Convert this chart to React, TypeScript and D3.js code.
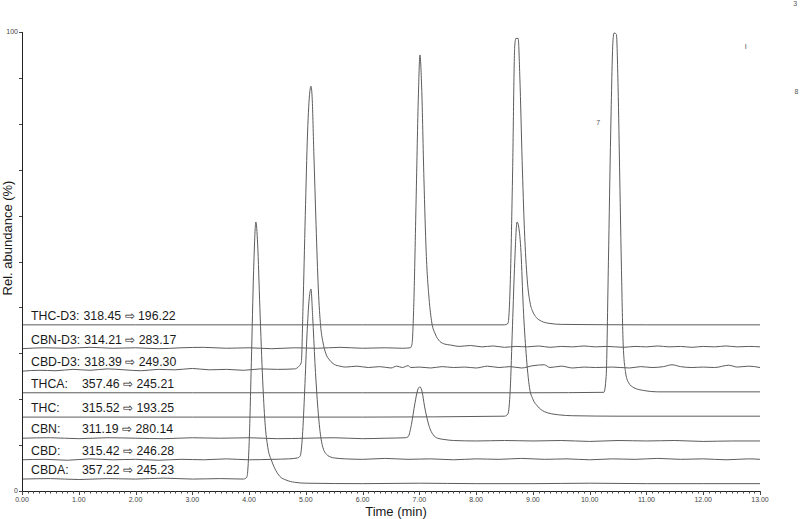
import { useEffect, useRef } from 'react';
import * as d3 from 'd3';

// trace names and MRM transitions (top to bottom)
const traceNames = ['THC-D3', 'CBN-D3', 'CBD-D3', 'THCA', 'THC', 'CBN', 'CBD', 'CBDA'];
const precursorMz = ['318.45', '314.21', '318.39', '357.46', '315.52', '311.19', '315.42', '357.22'];
const productMz = ['196.22', '283.17', '249.30', '245.21', '193.25', '280.14', '246.28', '245.23'];

// [time (min), rel. abundance (%)], baseline offsets included
const thcD3: [number, number][] = [
  [0, 36.2], [2, 36.2], [4, 36.2], [6, 36.2], [8.5, 36.2], [8.56, 36.5], [8.6, 45], [8.64, 68],
  [8.68, 97], [8.7, 98.6], [8.74, 98.6], [8.77, 90], [8.81, 72], [8.85, 57], [8.9, 46], [8.95, 41],
  [9.0, 39], [9.06, 37.8], [9.15, 37.0], [9.3, 36.5], [9.5, 36.3], [11, 36.2], [13, 36.2],
];
const cbnD3: [number, number][] = [
  [0, 31.0], [0.4, 31.2], [0.8, 31.1], [1.2, 31.3], [1.6, 31.1], [2.0, 31.2], [2.4, 31.0], [2.8, 31.2],
  [3.2, 31.3], [3.6, 31.1], [4.0, 31.2], [4.4, 31.0], [4.8, 31.2], [5.2, 31.1], [5.6, 31.3], [6.0, 31.1],
  [6.4, 31.2], [6.7, 31.1], [6.84, 31.2], [6.87, 32], [6.9, 40], [6.94, 62], [6.98, 85], [7.01, 95.0],
  [7.04, 88], [7.08, 68], [7.12, 52], [7.17, 42], [7.22, 36.6], [7.28, 34.2], [7.36, 32.6], [7.45, 32.0],
  [7.55, 31.8], [7.7, 31.5], [7.9, 31.7], [8.1, 31.4], [8.3, 31.6], [8.5, 31.3], [8.7, 31.5], [8.9, 31.4],
  [9.1, 31.6], [9.3, 31.3], [9.5, 31.5], [9.7, 31.4], [9.9, 31.6], [10.1, 31.4], [10.3, 31.5], [10.6, 31.3],
  [10.8, 31.5], [11.0, 31.4], [11.2, 31.6], [11.4, 31.4], [11.6, 31.5], [11.8, 31.3], [12.0, 31.5],
  [12.2, 31.4], [12.4, 31.6], [12.6, 31.4], [12.8, 31.5], [13.0, 31.4],
];
const cbdD3: [number, number][] = [
  [0, 26.1], [0.3, 26.3], [0.6, 26.2], [0.9, 26.5], [1.2, 26.3], [1.5, 26.6], [1.8, 26.4], [2.1, 26.2],
  [2.4, 26.5], [2.7, 26.4], [3.0, 26.7], [3.3, 26.4], [3.6, 26.5], [3.9, 26.3], [4.2, 26.6], [4.5, 26.5],
  [4.8, 26.6], [4.88, 27.2], [4.92, 28], [4.95, 40], [4.99, 60], [5.03, 78], [5.07, 87], [5.09, 88.2],
  [5.11, 86], [5.14, 74], [5.18, 58], [5.22, 44], [5.26, 36], [5.3, 32.5], [5.35, 30], [5.42, 28.5],
  [5.5, 27.6], [5.6, 27.2], [5.7, 27.0], [5.9, 27.2], [6.1, 26.9], [6.3, 27.1], [6.5, 26.8], [6.6, 27.2],
  [6.7, 26.9], [6.8, 27.3], [6.85, 26.9], [7.0, 27.0], [7.2, 26.8], [7.4, 27.1], [7.6, 26.9], [7.8, 27.0],
  [8.0, 26.8], [8.2, 27.2], [8.4, 26.9], [8.6, 27.1], [8.8, 26.8], [9.0, 27.3], [9.2, 27.5], [9.3, 26.9],
  [9.5, 27.2], [9.7, 26.8], [9.9, 27.0], [10.1, 26.9], [10.4, 27.0], [10.7, 26.8], [10.9, 27.1],
  [11.1, 26.9], [11.3, 27.1], [11.45, 27.5], [11.6, 27.1], [11.8, 26.9], [12.0, 27.0], [12.2, 26.9],
  [12.45, 27.4], [12.6, 27.0], [12.8, 27.2], [13.0, 26.9],
];
const thca: [number, number][] = [
  [0, 21.4], [3, 21.4], [6, 21.4], [9, 21.4], [10.25, 21.5], [10.29, 25], [10.33, 50], [10.37, 78],
  [10.41, 98], [10.43, 99.8], [10.47, 99.5], [10.5, 88], [10.53, 68], [10.56, 48], [10.59, 32],
  [10.63, 26], [10.68, 23.7], [10.78, 22.5], [10.95, 21.9], [11.2, 21.6], [13, 21.6],
];
const thc: [number, number][] = [
  [0, 16.1], [3, 16.1], [6, 16.1], [8.5, 16.3], [8.56, 16.8], [8.6, 22], [8.64, 36], [8.68, 50],
  [8.72, 58.6], [8.75, 57.5], [8.79, 52], [8.83, 40], [8.88, 30], [8.94, 22.5], [9.0, 20], [9.08, 18.5],
  [9.2, 17.3], [9.45, 16.6], [9.7, 16.4], [10.5, 16.3], [13, 16.3],
];
const cbn: [number, number][] = [
  [0, 11.5], [0.5, 11.6], [1.0, 11.4], [1.5, 11.6], [2.0, 11.5], [2.5, 11.4], [3.0, 11.6], [3.5, 11.5],
  [4.0, 11.6], [4.5, 11.4], [5.0, 11.5], [5.5, 11.6], [6.0, 11.4], [6.4, 11.5], [6.75, 11.6], [6.8, 11.8],
  [6.86, 14.5], [6.92, 19], [6.97, 22], [7.01, 22.7], [7.05, 21.5], [7.09, 18.5], [7.13, 16.1],
  [7.18, 13.8], [7.24, 12.3], [7.32, 11.5], [7.45, 11.2], [7.6, 11.0], [8.0, 10.9], [8.5, 11.0],
  [9.0, 10.9], [9.5, 11.0], [10.0, 10.8], [10.5, 11.0], [11.0, 10.9], [11.5, 11.0], [12.0, 10.8],
  [12.5, 10.9], [13.0, 10.9],
];
const cbd: [number, number][] = [
  [0, 6.8], [0.4, 6.9], [0.8, 6.7], [1.2, 7.0], [1.6, 6.8], [2.0, 6.9], [2.4, 6.7], [2.8, 6.9],
  [3.2, 6.8], [3.6, 7.0], [4.0, 6.8], [4.4, 6.9], [4.7, 7.0], [4.85, 7.2], [4.9, 7.6], [4.94, 12],
  [4.98, 22], [5.02, 34], [5.06, 42], [5.09, 44.0], [5.12, 38], [5.16, 28], [5.2, 20], [5.25, 13],
  [5.3, 9.5], [5.38, 7.8], [5.5, 7.2], [5.7, 7.0], [6.0, 6.9], [6.4, 7.1], [6.8, 6.9], [7.2, 7.0],
  [7.6, 6.8], [8.0, 7.0], [8.4, 6.9], [8.8, 7.1], [9.2, 6.9], [9.6, 7.0], [10.0, 6.8], [10.4, 7.0],
  [10.8, 6.9], [11.2, 7.1], [11.6, 6.9], [12.0, 7.0], [12.4, 6.8], [12.8, 7.0], [13.0, 6.9],
];
const cbda: [number, number][] = [
  [0, 2.6], [0.5, 2.7], [1.0, 2.5], [1.5, 2.7], [2.0, 2.6], [2.5, 2.8], [3.0, 2.6], [3.5, 2.7],
  [3.9, 2.6], [3.96, 3.0], [4.0, 10], [4.04, 28], [4.08, 48], [4.12, 58.6], [4.15, 54], [4.19, 40],
  [4.24, 24], [4.28, 15], [4.33, 9.5], [4.4, 6.5], [4.47, 4.5], [4.54, 3.2], [4.65, 2.4], [4.8, 1.9],
  [5.0, 1.7], [6.0, 1.6], [7.0, 1.7], [8.0, 1.6], [9.0, 1.6], [10.0, 1.7], [11.0, 1.6], [12.0, 1.6],
  [13.0, 1.6],
];
const traces = [thcD3, cbnD3, cbdD3, thca, thc, cbn, cbd, cbda];

// stray peak-label fragments left in the original figure: [text, time, abundance]
const strayLabels: [string, number, number][] = [
  ['3', 13.62, 105.6], ['I', 12.75, 96.3], ['8', 13.64, 86.5], ['7', 10.15, 79.7],
];

const App = () => {
  const svgRef = useRef<SVGSVGElement | null>(null);

  useEffect(() => {
    const width = 800;
    const height = 519;
    const svg = d3.select(svgRef.current);
    svg.selectAll('*').remove();
    svg.attr('width', width).attr('height', height);

    const font = 'Arial, "Liberation Sans", sans-serif';

    const x = d3.scaleLinear().domain([0, 13]).range([22, 760]);
    const y = d3.scaleLinear().domain([0, 100]).range([491, 32]);

    // traces
    const line = d3.line<[number, number]>()
      .x(d => x(d[0]))
      .y(d => y(d[1]))
      .curve(d3.curveMonotoneX);

    svg.selectAll('.trace')
      .data(traces)
      .enter()
      .append('path')
      .attr('class', 'trace')
      .attr('d', d => line(d))
      .attr('fill', 'none')
      .attr('stroke', '#5c5c5c')
      .attr('stroke-width', 1);

    // trace labels (name, then transition in a column; pushed right if the name is long)
    const labels = svg.append('g').style('font-family', font).style('font-size', '12.3px').attr('fill', '#1a1a1a');
    traceNames.forEach((name, i) => {
      const ly = y(traces[i][0][1]) - 5;
      const nameText = labels.append('text').attr('x', 31).attr('y', ly).text(`${name}:`);
      const nameEnd = 31 + ((nameText.node() as SVGTextElement).getComputedTextLength() || 0);
      labels.append('text')
        .attr('x', Math.max(82, nameEnd + 4))
        .attr('y', ly)
        .text(`${precursorMz[i]} \u21E8 ${productMz[i]}`);
    });

    // axes
    const axisG = svg.append('g').attr('stroke', '#222').attr('stroke-width', 1);
    axisG.append('line')
      .attr('x1', x(0)).attr('x2', x(13))
      .attr('y1', y(0) + 0.5).attr('y2', y(0) + 0.5);
    axisG.append('line')
      .attr('x1', x(0) + 0.5).attr('x2', x(0) + 0.5)
      .attr('y1', y(100)).attr('y2', y(0) + 0.5);

    const minorX = d3.range(0, 131).map(i => i / 10);
    axisG.selectAll('.xtick')
      .data(minorX)
      .enter()
      .append('line')
      .attr('class', 'xtick')
      .attr('x1', d => Math.round(x(d)) + 0.5)
      .attr('x2', d => Math.round(x(d)) + 0.5)
      .attr('y1', y(0))
      .attr('y2', (d, i) => y(0) + (i % 10 === 0 ? 4 : 2.5))
      .attr('stroke', '#444');

    const majorX = d3.range(0, 14);
    svg.append('g')
      .selectAll('text')
      .data(majorX)
      .enter()
      .append('text')
      .attr('x', d => x(d))
      .attr('y', y(0) + 11)
      .attr('text-anchor', 'middle')
      .style('font-family', font)
      .style('font-size', '7px')
      .attr('fill', '#444')
      .text(d => d3.format('.2f')(d));

    const yTicks = d3.range(0, 101, 10);
    axisG.selectAll('.ytick')
      .data(yTicks)
      .enter()
      .append('line')
      .attr('class', 'ytick')
      .attr('x1', x(0) - 3)
      .attr('x2', x(0))
      .attr('y1', d => Math.round(y(d)) + 0.5)
      .attr('y2', d => Math.round(y(d)) + 0.5)
      .attr('stroke', '#444');

    svg.append('g')
      .selectAll('text')
      .data([0, 100])
      .enter()
      .append('text')
      .attr('x', x(0) - 4)
      .attr('y', d => y(d) + 2)
      .attr('text-anchor', 'end')
      .style('font-family', font)
      .style('font-size', '7px')
      .attr('fill', '#444')
      .text(d => d);

    // axis titles
    svg.append('text')
      .attr('x', 396)
      .attr('y', 516)
      .attr('text-anchor', 'middle')
      .style('font-family', font)
      .style('font-size', '13px')
      .attr('fill', '#1a1a1a')
      .text('Time (min)');

    svg.append('text')
      .attr('transform', 'translate(12,238) rotate(-90)')
      .attr('text-anchor', 'middle')
      .style('font-family', font)
      .style('font-size', '13px')
      .attr('fill', '#1a1a1a')
      .text('Rel. abundance (%)');

    // leftover fragments
    svg.append('g')
      .selectAll('text')
      .data(strayLabels)
      .enter()
      .append('text')
      .attr('x', d => x(d[1]))
      .attr('y', d => y(d[2]))
      .attr('text-anchor', 'middle')
      .style('font-family', font)
      .style('font-size', '7px')
      .attr('fill', '#555')
      .text(d => d[0]);
  }, []);

  return (
    <svg ref={svgRef} style={{ position: 'absolute', left: 0, top: 0, background: '#fff' }}></svg>
  );
};

export default App;
